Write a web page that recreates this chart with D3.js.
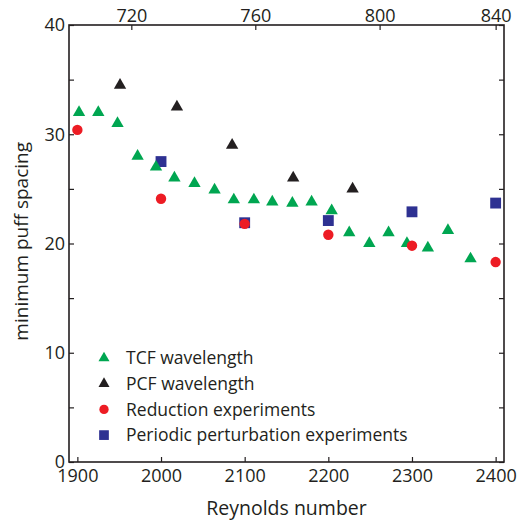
<!DOCTYPE html>
<html>
<head>
<meta charset="utf-8">
<script src="https://cdn.jsdelivr.net/npm/d3@7"></script>
<style>
  body { margin: 0; background: #fff; }
  text { font-family: "Open Sans", sans-serif; fill: #231f20; }
</style>
</head>
<body>
<div class="chart"></div>
<script>
(function() {
  // TCF wavelength
  var tcfRe = [1902, 1925, 1948, 1972, 1994, 2016, 2040, 2064, 2087, 2111, 2133, 2157, 2180, 2204, 2225, 2249, 2272, 2294, 2319, 2343, 2370];
  var tcfVal = [32, 32, 31, 28, 27, 26, 25.5, 24.9, 24, 24, 23.8, 23.7, 23.8, 23, 21, 20, 21, 20, 19.6, 21.2, 18.6];
  // PCF wavelength
  var pcfRe = [1951, 2019, 2085, 2158, 2229];
  var pcfVal = [34.5, 32.5, 29, 26, 25];
  // Reduction experiments
  var redRe = [1900, 2000, 2100, 2200, 2300, 2400];
  var redVal = [30.4, 24.1, 21.8, 20.8, 19.8, 18.3];
  // Periodic perturbation experiments
  var perRe = [2000, 2100, 2200, 2300, 2400];
  var perVal = [27.5, 21.9, 22.1, 22.9, 23.7];
  // top axis (PCF Reynolds number) and where it sits on the TCF axis
  var topLabels = [720, 760, 800, 840];
  var topAt = [1964.5, 2112.7, 2261.3, 2400];
  var xTicks = [1900, 2000, 2100, 2200, 2300, 2400];
  var yTicks = [0, 5, 10, 15, 20, 25, 30, 35, 40];

  var width = 527, height = 521,
    margin = {top: 25, left: 69, right: 23, bottom: 59},
    ink = "#231f20";

  var svg = d3.select(".chart").append("svg")
    .attr("width", width)
    .attr("height", height);

  var x = d3.scaleLinear().domain([1890, 2410]).range([margin.left, width - margin.right]);
  var y = d3.scaleLinear().domain([0, 40]).range([height - margin.bottom, margin.top]);

  function styleAxis(g) {
    g.select(".domain").remove();
    g.selectAll(".tick line").attr("stroke", ink).attr("stroke-width", 1.2);
    g.selectAll(".tick text").attr("fill", ink).style("font-size", "18px")
      .style("font-family", "'Open Sans', sans-serif");
  }

  svg.append("g")
    .attr("transform", "translate(0," + y(0) + ")")
    .call(d3.axisBottom(x).tickValues(xTicks).tickSize(-5).tickPadding(7).tickFormat(d3.format("d")))
    .call(styleAxis);

  svg.append("g")
    .attr("transform", "translate(0," + y(40) + ")")
    .call(d3.axisTop(x).tickValues(topAt).tickSize(-5).tickPadding(3)
      .tickFormat(function(d, i) { return topLabels[i]; }))
    .call(styleAxis);

  svg.append("g")
    .attr("transform", "translate(" + x.range()[0] + ",0)")
    .call(d3.axisLeft(y).tickValues(yTicks).tickSize(-5).tickPadding(4)
      .tickFormat(function(d) { return d % 10 === 0 ? d : ""; }))
    .call(styleAxis);

  svg.append("g")
    .attr("transform", "translate(" + x.range()[1] + ",0)")
    .call(d3.axisRight(y).tickValues(yTicks).tickSize(-5).tickFormat(""))
    .call(styleAxis);

  // frame
  svg.append("rect")
    .attr("x", x.range()[0])
    .attr("y", y.range()[1])
    .attr("width", x.range()[1] - x.range()[0])
    .attr("height", y.range()[0] - y.range()[1])
    .attr("fill", "none")
    .attr("stroke", ink)
    .attr("stroke-width", 1.6);

  var series = [
    {name: "TCF wavelength", re: tcfRe, val: tcfVal, type: d3.symbolTriangle, size: 66, color: "#00a651"},
    {name: "PCF wavelength", re: pcfRe, val: pcfVal, type: d3.symbolTriangle, size: 66, color: "#231f20"},
    {name: "Reduction experiments", re: redRe, val: redVal, type: d3.symbolCircle, size: 85, color: "#ed1c24"},
    {name: "Periodic perturbation experiments", re: perRe, val: perVal, type: d3.symbolSquare, size: 118, color: "#2e3192"}
  ];

  // draw order: squares under circles
  [3, 0, 1, 2].forEach(function(k) {
    var s = series[k];
    svg.append("g").selectAll("path")
      .data(s.re.map(function(r, i) { return [r, s.val[i]]; }))
      .enter().append("path")
        .attr("d", d3.symbol().type(s.type).size(s.size))
        .attr("transform", function(d) { return "translate(" + x(d[0]) + "," + y(d[1]) + ")"; })
        .attr("fill", s.color);
  });

  // legend
  var legend = svg.append("g").attr("transform", "translate(104,358)");
  var row = legend.selectAll("g").data(series).enter().append("g")
    .attr("transform", function(d, i) { return "translate(0," + (i * 25.7) + ")"; });
  row.append("path")
    .attr("d", function(d) { return d3.symbol().type(d.type).size(d.size * 0.8)(); })
    .attr("fill", function(d) { return d.color; });
  row.append("text")
    .attr("x", 22)
    .attr("dy", "0.35em")
    .style("font-size", "17.5px")
    .text(function(d) { return d.name; });

  // axis titles
  svg.append("text")
    .attr("x", x(2150))
    .attr("y", 515)
    .attr("text-anchor", "middle")
    .style("font-size", "19.5px")
    .text("Reynolds number");

  svg.append("text")
    .attr("transform", "translate(28," + y(20.2) + ") rotate(-90)")
    .attr("text-anchor", "middle")
    .style("font-size", "19px")
    .text("minimum puff spacing");
})();
</script>
</body>
</html>
